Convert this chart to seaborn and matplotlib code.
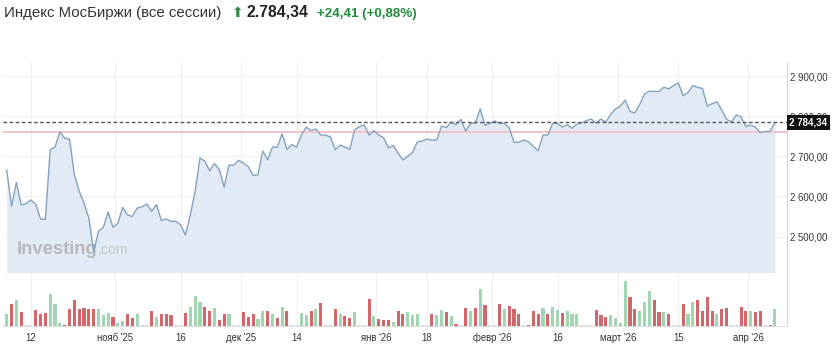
import numpy as np
import pandas as pd
import matplotlib
matplotlib.use("Agg")
import matplotlib.pyplot as plt
import matplotlib.transforms as mtransforms
from matplotlib.ticker import FuncFormatter
import seaborn as sns

# ---------------- data ----------------
price = [
    2666, 2575, 2635, 2579, 2582, 2591, 2581, 2544, 2543, 2717,
    2723, 2761, 2745, 2743, 2654, 2613, 2583, 2546, 2463, 2513,
    2523, 2561, 2523, 2533, 2573, 2554, 2550, 2571, 2574, 2581,
    2563, 2580, 2540, 2544, 2538, 2538, 2529, 2504, 2554, 2613,
    2696,
    2688, 2664, 2682, 2667, 2623, 2678, 2678, 2690, 2683, 2674,
    2652, 2654, 2713, 2691, 2723, 2723, 2756, 2717, 2729, 2723,
    2753, 2773, 2764, 2768, 2753, 2753, 2748, 2716, 2728, 2723,
    2717, 2766, 2774, 2778, 2753, 2764, 2753, 2746, 2721, 2727,
    2708, 2691, 2700, 2710, 2736, 2738, 2743, 2740, 2741, 2775,
    2772, 2785, 2779, 2792, 2763, 2782, 2783, 2818, 2777, 2782,
    2788, 2782, 2782, 2771, 2735, 2735, 2741, 2736, 2725, 2714,
    2753, 2753, 2782, 2782, 2773, 2779, 2770, 2780, 2783, 2789,
    2793,
    2783, 2793, 2785, 2804, 2818, 2825, 2840, 2812, 2808, 2829,
    2855, 2862, 2862, 2861, 2872, 2868, 2876, 2883, 2851, 2859,
    2876, 2872, 2869, 2825, 2831, 2836, 2815, 2792, 2786, 2803,
    2798, 2774, 2778, 2772, 2759, 2762, 2762, 2784.34,
]

volume = [
    36, 65, 78, 42, 2, 2, 47, 37, 39, 95,
    65, 8, 3, 51, 78, 52, 54, 50, 52, 52,
    32, 39, 27, 8, 15, 35, 23, 37, 2, 2,
    45, 27, 36, 35, 32, 2, 2, 39, 58, 90,
    73, 56, 45, 54, 18, 35, 36, 2, 2, 42,
    27, 35, 20, 44, 45, 36, 23, 57, 45, 2,
    2, 39, 34, 45, 51, 68, 2, 2, 52, 36,
    30, 23, 42, 2, 2, 80, 30, 21, 18, 18,
    12, 45, 37, 42, 34, 36,
    2, 2, 37, 32, 49, 42, 30, 6, 3, 54,
    46, 54, 109, 64, 2, 2, 66, 52, 61, 50,
    35, 2, 3, 45, 37, 54, 35, 57, 49, 40,
    45, 37, 37, 2, 2, 2, 47, 33, 27, 32,
    23, 8, 133, 87, 52, 46, 73, 105, 77, 42,
    42, 36, 2, 2, 65, 35, 73, 78, 45, 86,
    45, 37, 52, 54, 2, 2, 56, 45, 45, 43,
    44, 2, 3, 52,
]

direction = list(
    "grgrnnrrrg" "ggrrrrrrrg" "ggrggrrgnn" "rgrrrnnrgg" "grrgrrgnnr"
    "rrggrgrgrn" "nggrgrnnrg" "rrgnnrgrrr" "grrggg"
    "nnrggrgrnr" "grgrnnrgrr" "rnrrrgrggr" "gggnnnrrrg" "gggrrgggrr"
    "grnnrggrrr" "rgrrnnrrgr" "rnrg"
)

tick_idx = [5, 22.5, 36, 48.5, 60, 76.5, 87, 100.5, 114, 126.5, 139, 153.5]
tick_labels = ["12", "нояб '25", "16", "дек '25", "14", "янв '26",
               "18", "февр '26", "16", "март '26", "15", "апр '26"]
y_ticks = [2500, 2600, 2700, 2800, 2900]

title = "Индекс МосБиржи (все сессии)"
last_price = 2784.34
change = 24.41
change_pct = 0.88
prev_close = last_price - change

# ---------------- style ----------------
sns.set_theme(style="white")
plt.rcParams['font.family'] = ['Liberation Sans', 'DejaVu Sans']

W, H = 836, 347
fig = plt.figure(figsize=(W / 100, H / 100), dpi=100)


def rect(x0, y0, x1, y1):
    return [x0 / W, 1 - y1 / H, (x1 - x0) / W, (y1 - y0) / H]


ax = fig.add_axes(rect(3, 62, 787, 272.7))
axv = fig.add_axes(rect(3, 272.7, 787, 326))

n = len(price)
df = pd.DataFrame({"idx": np.arange(n), "price": price})
dv = pd.DataFrame({"idx": np.arange(n), "vol": volume, "dir": direction})

XMIN, XMAX = -0.77, 161.5
YMIN, YMAX = 2410, 2935

# price area
ax.fill_between(df["idx"], df["price"], YMIN - 200, color="#e2ebf5", lw=0, zorder=1)
sns.lineplot(data=df, x="idx", y="price", ax=ax, color="#84a1bd", lw=1.0, zorder=3)
ax.axhline(prev_close, color="#f2c4c9", lw=1.4, zorder=2)
ax.axhline(last_price, color="#555555", lw=1.0, ls=(0, (2.6, 1.8)), zorder=4)

ax.set_xlim(XMIN, XMAX)
ax.set_ylim(YMIN, YMAX)
ax.set_yticks(y_ticks)
ax.set_xticks(tick_idx)
ax.set_xticklabels([])
ax.yaxis.tick_right()
ax.yaxis.set_major_formatter(
    FuncFormatter(lambda v, p: f"{v:,.2f}".replace(",", " ").replace(".", ",")))
ax.tick_params(axis="y", length=0, pad=2, labelsize=6.9, labelcolor="#333333")
ax.tick_params(axis="x", length=0)
ax.grid(True, color="#efefef", lw=0.8)
ax.set_axisbelow(True)
ax.set_xlabel("")
ax.set_ylabel("")
for s in ["top", "left"]:
    ax.spines[s].set_visible(False)
ax.spines["right"].set_color("#d6d6d6")
ax.spines["right"].set_linewidth(0.8)
ax.spines["bottom"].set_color("#cfcfcf")
ax.spines["bottom"].set_linewidth(0.8)

# watermark
ax.text(16.7 / W, 1 - 254.3 / H, "Investing", transform=fig.transFigure,
        fontsize=13.2, fontweight="bold", color="#b8b8b8", family="Liberation Sans",
        va="baseline", ha="left", zorder=2)
ax.text(97.5 / W, 1 - 254.3 / H, ".com", transform=fig.transFigure,
        fontsize=10.2, color="#c6c6c6", family="Liberation Sans",
        va="baseline", ha="left", zorder=2)

# last-price box
trans = mtransforms.blended_transform_factory(ax.transAxes, ax.transData)
ax.text(1.0028, last_price, f"{last_price:,.2f}".replace(",", " ").replace(".", ","),
        transform=trans, color="white", fontsize=7, fontweight="bold",
        va="center", ha="left", clip_on=False, zorder=10,
        bbox=dict(facecolor="#111111", edgecolor="none", boxstyle="square,pad=0.25"))

# volume bars
pal = {"g": "#a2d5b1", "r": "#d2676b", "n": "#dcdcdc"}
sns.barplot(data=dv, x="idx", y="vol", hue="dir", palette=pal, native_scale=True,
            dodge=False, width=0.64, legend=False, errorbar=None, saturation=1,
            linewidth=0, ax=axv, zorder=3)
axv.set_xlim(XMIN, XMAX)
axv.set_ylim(0, 159)
axv.set_yticks([])
axv.set_xticks(tick_idx)
axv.set_xticklabels(tick_labels)
axv.tick_params(axis="x", length=0, pad=5, labelsize=6.9, labelcolor="#333333")
axv.grid(True, axis="x", color="#efefef", lw=0.8)
axv.set_axisbelow(True)
axv.set_xlabel("")
axv.set_ylabel("")
for s in ["top", "left"]:
    axv.spines[s].set_visible(False)
axv.spines["right"].set_color("#d6d6d6")
axv.spines["right"].set_linewidth(0.8)
axv.spines["bottom"].set_color("#dddddd")
axv.spines["bottom"].set_linewidth(0.8)

# header
def ru_num(v):
    return f"{v:,.2f}".replace(",", " ").replace(".", ",").replace(" ", ".")

fig.text(3.5 / W, 1 - 16.7 / H, title, fontsize=10.8, color="#333333",
         va="baseline", ha="left")
fig.text(231.5 / W, 1 - 17 / H, "⬆", fontsize=10, color="#2b8a45",
         va="baseline", ha="left", family=["DejaVu Sans"])
fig.text(246.5 / W, 1 - 16.7 / H, ru_num(last_price), fontsize=11.3,
         fontweight="bold", color="#222222", va="baseline", ha="left")
fig.text(317 / W, 1 - 16.7 / H,
         f"+{change:.2f} (+{change_pct:.2f}%)".replace(".", ","),
         fontsize=9.6, fontweight="bold", color="#1e8b3e", va="baseline", ha="left")

fig.savefig("out.png", dpi=100)
